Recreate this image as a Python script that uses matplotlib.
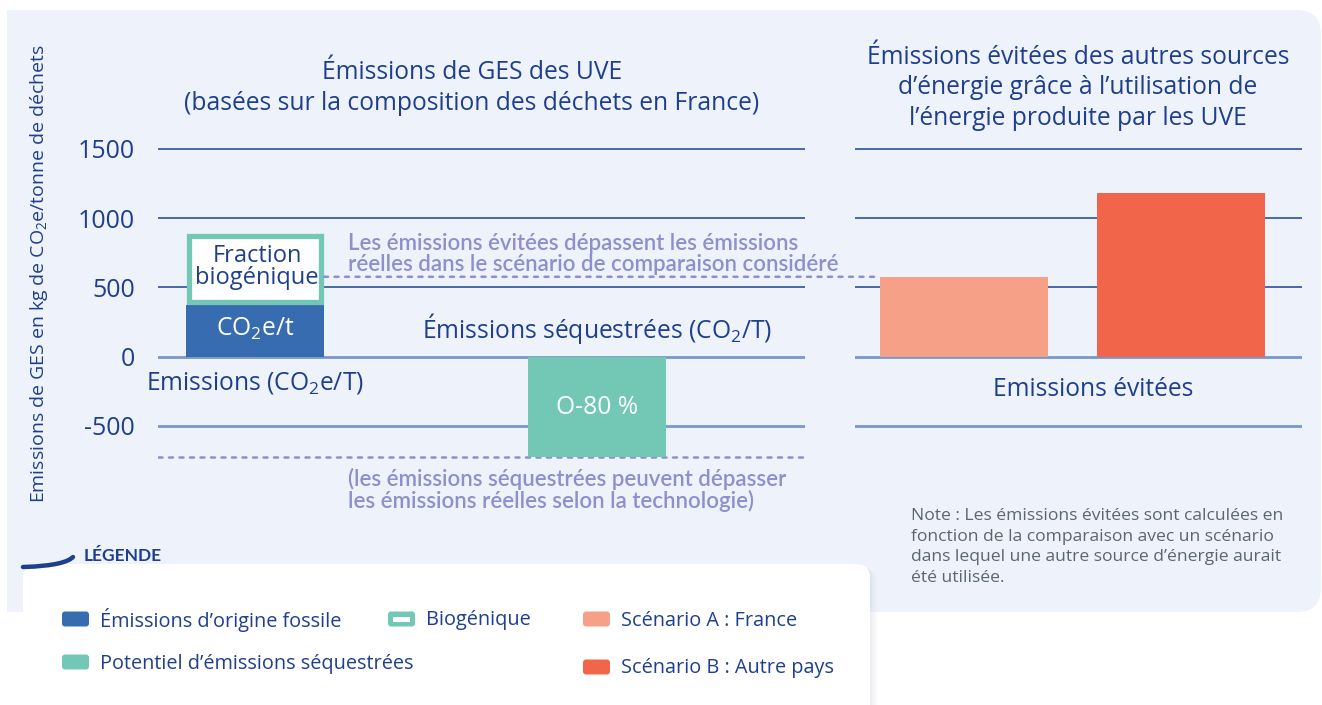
import matplotlib
matplotlib.use("Agg")
import matplotlib.pyplot as plt
from matplotlib.patches import FancyBboxPatch, Rectangle, ConnectionPatch
from matplotlib.transforms import Affine2D
from matplotlib.path import Path
from matplotlib.patches import PathPatch

# ---------------- data ----------------
yticks = [1500, 1000, 500, 0, -500]
ytick_labels = ["1500", "1000", "500", "0", "-500"]
fossil = 375          # émissions d'origine fossile
biogenic = 515        # fraction biogénique (au-dessus du fossile)
sequestered = -725    # potentiel d'émissions séquestrées
avoided_labels = ["Scénario A : France", "Scénario B : Autre pays"]
avoided_values = [576, 1183]

# ---------------- style ----------------
BG = "#EEF3FB"
NAVY = "#1F3F8E"
GRID_DARK = "#2B5299"
GRID_LIGHT = "#7898CB"
FOSSIL = "#376CB0"
TEAL = "#72C8B4"
SC_A = "#F6A187"
SC_B = "#F1664B"
PURPLE = "#8D90CC"
GREY = "#5B6670"
FONT = "Open Sans"
FONT2 = "Lato"
FS = 17.7

plt.rcParams["font.family"] = [FONT, "DejaVu Sans"]
plt.rcParams["mathtext.fontset"] = "custom"
plt.rcParams["mathtext.rm"] = FONT
plt.rcParams["mathtext.it"] = FONT
plt.rcParams["mathtext.bf"] = FONT + ":bold"

W, H = 1322, 705
fig = plt.figure(figsize=(W / 100, H / 100), dpi=100)
fig.patch.set_facecolor("white")
T = Affine2D().scale(1 / W, -1 / H).translate(0, 1) + fig.transFigure

# background panel: square left corners, rounded right corners
fig.patches.append(FancyBboxPatch((7, 10), 1314, 602, boxstyle="round,pad=0,rounding_size=24",
                                  transform=T, facecolor=BG, edgecolor="none", zorder=-2))
fig.patches.append(Rectangle((7, 10), 100, 602, transform=T, facecolor=BG, edgecolor="none", zorder=-2))

def axes_px(x0, x1, y0, y1):
    return fig.add_axes([x0 / W, 1 - y1 / H, (x1 - x0) / W, (y1 - y0) / H])

# y mapping: 0 at 356.5 px, 0.1384 px per unit
zero_px, ppu = 356.5, 0.1384
ytop_px, ybot_px = 140, 470
ylim = ((zero_px - ybot_px) / ppu, (zero_px - ytop_px) / ppu)

ax1 = axes_px(158, 805, ytop_px, ybot_px)
ax2 = axes_px(855, 1302, ytop_px, ybot_px)
for ax in (ax1, ax2):
    ax.set_zorder(1)
    ax.set_facecolor("none")
    ax.set_ylim(*ylim)
    for s in ax.spines.values():
        s.set_visible(False)
    ax.set_xticks([])
    ax.set_yticks(yticks)
    ax.tick_params(axis="y", length=0, pad=16.5, labelsize=18, labelcolor=NAVY)
    for v in yticks:
        light = v <= 0
        ax.axhline(v, color=GRID_LIGHT if light else GRID_DARK,
                   lw=2.0 if light else 1.2, zorder=1)
ax1.set_yticklabels(ytick_labels)
ax2.set_yticklabels([])

# left panel
ax1.set_xlim(-0.2836, 1.608)
bw = 0.4035
ax1.bar(0, fossil, width=bw, color=FOSSIL, zorder=3)
# biogenic box (inset so the border stays inside the bar footprint)
inset_x = 2.6 / 342
inset_y = 2.6 / ppu
ax1.bar(0, biogenic - 2 * inset_y, bottom=fossil + inset_y, width=bw - 2 * inset_x,
        facecolor="white", edgecolor=TEAL, lw=3.8, zorder=3)
ax1.bar(1, sequestered, width=bw, color=TEAL, zorder=3)

DOTS = (0, (1.6, 2.6))
ax1.axhline(sequestered, zorder=2, color=PURPLE, lw=1.8, linestyle=DOTS, dash_capstyle="round")

# right panel
ax2.set_xlim(-0.502, 1.558)
bw2 = 0.774
ax2.bar([0, 1], avoided_values, width=bw2, color=[SC_A, SC_B], zorder=3)

con = ConnectionPatch(xyA=(bw / 2, avoided_values[0]), coordsA=ax1.transData,
                      xyB=(-bw2 / 2, avoided_values[0]), coordsB=ax2.transData,
                      zorder=2, color=PURPLE, lw=1.8, linestyle=DOTS, capstyle="round")
fig.add_artist(con)

# ---------------- texts ----------------
def t(x, y, s, **kw):
    kw.setdefault("color", NAVY)
    kw.setdefault("va", "center")
    kw.setdefault("zorder", 5)
    fig.text(x, y, s, transform=T, **kw)

t(39, 274, "Emissions de GES en kg de CO$_2$e/tonne de déchets", rotation=90, ha="center", fontsize=14)
t(472, 88, "Émissions de GES des UVE\n(basées sur la composition des déchets en France)",
  ha="center", fontsize=FS, linespacing=1.3)
t(1078, 88, "Émissions évitées des autres sources\nd’énergie grâce à l’utilisation de\nl’énergie produite par les UVE",
  ha="center", fontsize=FS, linespacing=1.3)

t(257, 267, "Fraction\nbiogénique", ha="center", fontsize=17, linespacing=0.9)
t(255, 329, "CO$_2$e/t", ha="center", fontsize=FS, color="white")
t(255, 383, "Emissions (CO$_2$e/T)", ha="center", fontsize=FS)
t(597, 329, "Émissions séquestrées (CO$_2$/T)", ha="center", fontsize=FS)
t(597, 408, "O-80 %", ha="center", fontsize=FS, color="white")
t(1093, 390, "Emissions évitées", ha="center", fontsize=FS)

t(348, 254, "Les émissions évitées dépassent les émissions\nréelles dans le scénario de comparaison considéré",
  ha="left", fontsize=16, color=PURPLE, fontweight="semibold", linespacing=0.98, family=[FONT2])
t(348, 490, "(les émissions séquestrées peuvent dépasser\nles émissions réelles selon la technologie)",
  ha="left", fontsize=16, color=PURPLE, fontweight="semibold", linespacing=0.98, family=[FONT2])

t(911, 547, "Note : Les émissions évitées sont calculées en\nfonction de la comparaison avec un scénario\n"
  "dans lequel une autre source d’énergie aurait\nété utilisée.",
  ha="left", fontsize=12.6, color=GREY, linespacing=1.4)

# ---------------- legend ----------------
for i, a in enumerate([0.05, 0.04, 0.03, 0.02]):
    fig.patches.append(FancyBboxPatch((23 + 2 + i * 2, 566 + i), 847, 160,
                                      boxstyle="round,pad=0,rounding_size=14", transform=T,
                                      facecolor="#8893a8", alpha=a, edgecolor="none", zorder=2))
fig.patches.append(FancyBboxPatch((23, 564), 847, 160, boxstyle="round,pad=0,rounding_size=14",
                                  transform=T, facecolor="white", edgecolor="none", zorder=3))
sw = Path([(23, 567), (55, 566), (68, 562), (73, 557)],
          [Path.MOVETO, Path.CURVE4, Path.CURVE4, Path.CURVE4])
fig.patches.append(PathPatch(sw, transform=T, facecolor="none", edgecolor=NAVY, lw=3.2,
                             capstyle="round", zorder=4))
t(84, 556, "LÉGENDE", ha="left", fontsize=12.5, fontweight="bold", family=[FONT2])

legend_items = [
    ("Émissions d’origine fossile", FOSSIL, 62, 619, False),
    ("Biogénique", TEAL, 388, 619, True),
    (avoided_labels[0], SC_A, 583, 619, False),
    ("Potentiel d’émissions séquestrées", TEAL, 62, 662, False),
    (avoided_labels[1], SC_B, 583, 667, False),
]
for label, col, x, y, hollow in legend_items:
    fig.patches.append(FancyBboxPatch((x, y - 7.5), 27, 15, boxstyle="round,pad=0,rounding_size=3",
                                      transform=T, facecolor=col, edgecolor="none", zorder=4))
    if hollow:
        fig.patches.append(Rectangle((x + 5, y - 2.5), 17, 5, transform=T, facecolor="white",
                                     edgecolor="none", zorder=5))
    t(x + 38, y + 1.5, label, ha="left", fontsize=14.3)

fig.savefig("out.png", dpi=100)
